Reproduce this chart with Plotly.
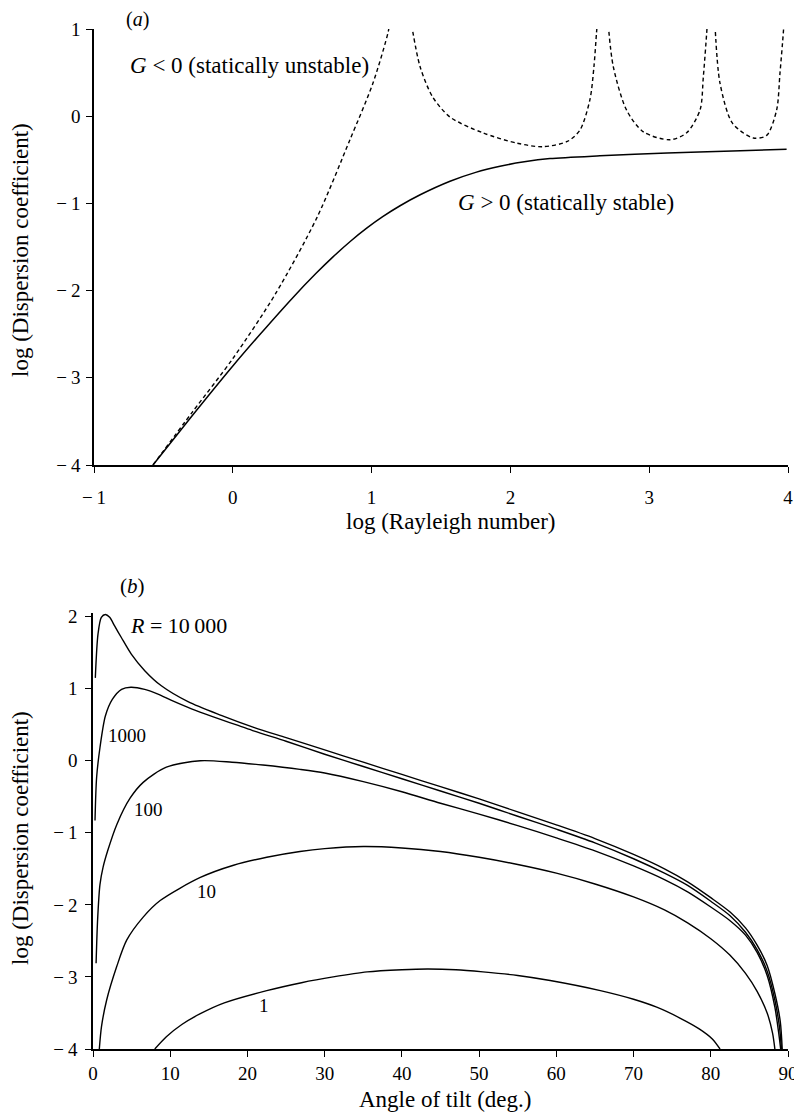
import plotly.graph_objects as go

# Page body has an 8px margin: figure is sized/offset so that its content lands on the
# reference pixel grid of the 802x1113 window.
OFF = 8
W, H = 802 - OFF, 1113 - OFF

# ---------------- Panel (a) data ----------------
stable_x = [-0.575, -0.3, 0.0, 0.2, 0.434, 0.6, 0.72, 0.85, 0.967, 1.08, 1.205, 1.35, 1.565, 1.75, 1.925,
            2.1, 2.285, 2.645, 3.13, 3.60, 3.99]
stable_y = [-4.0, -3.45, -2.865, -2.495, -2.078, -1.802, -1.616, -1.431, -1.281, -1.152, -1.027, -0.901, -0.746,
            -0.644, -0.574, -0.523, -0.486, -0.454, -0.422, -0.398, -0.380]

unstable_x = [-0.575, -0.29, 0.0, 0.31, 0.607, 0.844, 1.01, 1.12, 1.127, None,
              1.288, 1.349, 1.44, 1.565, 1.80, 2.05, 2.23, 2.41, 2.501, 2.573, 2.602, 2.62, 2.625, None,
              2.705, 2.741, 2.837, 2.958, 3.15, 3.27, 3.366, 3.39, 3.414, 3.418, None,
              3.474, 3.51, 3.60, 3.75, 3.846, 3.918, 3.942, 3.966, 3.97]
unstable_y = [-4.0, -3.39, -2.78, -2.03, -1.16, -0.27, 0.38, 0.97, 1.05, None,
              1.05, 0.57, 0.22, -0.01, -0.19, -0.31, -0.35, -0.29, -0.16, 0.19, 0.57, 0.95, 1.05, None,
              1.05, 0.57, 0.07, -0.18, -0.27, -0.19, 0.07, 0.45, 0.95, 1.05, None,
              1.05, 0.38, -0.08, -0.25, -0.22, 0.07, 0.49, 0.95, 1.05]

a_xticks = [-1, 0, 1, 2, 3, 4]
a_xlabels = ["\u2212\u20091", "0", "1", "2", "3", "4"]
a_yticks = [-4, -3, -2, -1, 0, 1]
a_ylabels = ["\u2212\u20094", "\u2212\u20093", "\u2212\u20092", "\u2212\u20091", "0", "1"]

# ---------------- Panel (b) data ----------------
ang_10000 = [0.3, 0.65, 1.08, 1.6, 2.16, 2.8, 3.67, 4.96, 6.7, 8.85, 12.3, 16.6, 20.9, 25, 30, 35, 40, 45, 50, 55,
             60, 65, 70, 74, 77, 80, 82.5, 84.5, 86, 87.3, 88.3, 89.0, 89.25]
log_10000 = [1.15, 1.76, 1.99, 2.03, 1.99, 1.87, 1.71, 1.48, 1.25, 1.04, 0.82, 0.63, 0.46, 0.32, 0.15, -0.02, -0.19,
             -0.36, -0.53, -0.71, -0.89, -1.08, -1.30, -1.50, -1.68, -1.90, -2.10, -2.32, -2.56, -2.84, -3.23, -3.62, -4.0]

ang_1000 = [0.26, 0.47, 0.9, 1.6, 2.5, 3.7, 4.9, 6.7, 8.5, 10.1, 12.3, 14.5, 16.6, 18.8, 20.9, 25, 30, 35, 40, 45,
            50, 55, 60, 65, 70, 74, 77, 80, 82.5, 84.5, 86, 87.3, 88.3, 88.9, 89.15]
log_1000 = [-0.83, -0.23, 0.18, 0.62, 0.85, 0.99, 1.02, 0.99, 0.92, 0.84, 0.74, 0.65, 0.57, 0.49, 0.41, 0.27, 0.09,
            -0.08, -0.25, -0.42, -0.59, -0.77, -0.95, -1.14, -1.36, -1.56, -1.73, -1.95, -2.15, -2.38, -2.62, -2.92,
            -3.32, -3.7, -4.0]

ang_100 = [0.4, 0.6, 0.9, 1.3, 1.9, 3.1, 4.8, 6.5, 9.5, 13.9, 18.0, 22.0, 26.8, 30, 35, 40, 45, 50, 55, 60, 65,
           70, 74, 77, 80, 82.5, 84.5, 86, 87.3, 88.3, 88.8, 89.05]
log_100 = [-2.81, -2.2, -1.72, -1.48, -1.25, -0.88, -0.52, -0.30, -0.09, 0.0, -0.02, -0.06, -0.12, -0.17, -0.29, -0.43,
           -0.59, -0.74, -0.90, -1.07, -1.25, -1.46, -1.65, -1.82, -2.03, -2.22, -2.42, -2.66, -2.98, -3.42, -3.78, -4.0]

ang_10 = [0.82, 1.1, 1.77, 3.06, 4.36, 6.5, 8.7, 13.9, 18.2, 22.5, 26.8, 30, 35, 40, 45, 50, 55, 60, 65, 70, 74,
          77, 80, 82.5, 84.5, 86, 87.3, 88.0, 88.3]
log_10 = [-4.0, -3.69, -3.32, -2.86, -2.49, -2.17, -1.94, -1.62, -1.45, -1.34, -1.26, -1.22, -1.19, -1.21, -1.26,
          -1.34, -1.44, -1.56, -1.71, -1.89, -2.07, -2.25, -2.47, -2.70, -2.95, -3.20, -3.50, -3.78, -4.0]

ang_1 = [8.0, 9.5, 11.5, 13.9, 17, 22.5, 27, 31.1, 35.5, 40, 43.3, 47, 50.5, 55, 59.2, 65.7, 70, 73, 76, 78.5,
         80.2, 81.2]
log_1 = [-4.0, -3.83, -3.66, -3.51, -3.36, -3.19, -3.08, -3.0, -2.93, -2.90, -2.89, -2.90, -2.93, -2.98, -3.05,
         -3.19, -3.31, -3.42, -3.57, -3.72, -3.86, -4.0]

b_xticks = [0, 10, 20, 30, 40, 50, 60, 70, 80, 90]
b_xlabels = [str(v) for v in b_xticks]
b_yticks = [-4, -3, -2, -1, 0, 1, 2]
b_ylabels = ["\u2212\u20094", "\u2212\u20093", "\u2212\u20092", "\u2212\u20091", "0", "1", "2"]

FONT = "Liberation Serif, Times New Roman, serif"

fig = go.Figure()

fig.add_trace(go.Scatter(x=stable_x, y=stable_y, mode="lines",
                         line=dict(color="black", width=1.5, shape="spline", smoothing=0.8),
                         xaxis="x", yaxis="y", showlegend=False))
fig.add_trace(go.Scatter(x=unstable_x, y=unstable_y, mode="lines",
                         line=dict(color="black", width=1.4, dash="4px,3px", shape="spline", smoothing=0.8),
                         connectgaps=False, xaxis="x", yaxis="y", showlegend=False))

for xs, ys in [(ang_10000, log_10000), (ang_1000, log_1000), (ang_100, log_100), (ang_10, log_10), (ang_1, log_1)]:
    fig.add_trace(go.Scatter(x=xs, y=ys, mode="lines",
                             line=dict(color="black", width=1.4, shape="spline", smoothing=0.8),
                             xaxis="x2", yaxis="y2", showlegend=False))

def px2x(px):
    return (px - OFF) / W

def px2y(py):
    return 1 - (py - OFF) / H

axis_common = dict(showline=True, linecolor="black", linewidth=1.6, showgrid=False, zeroline=False,
                   ticks="outside", ticklen=6, tickwidth=1.2, tickcolor="black", mirror=False,
                   automargin=False,
                   tickfont=dict(family=FONT, size=19, color="black"), tickmode="array", fixedrange=True)

fig.update_layout(
    width=W, height=H, margin=dict(l=0, r=0, t=0, b=0, autoexpand=False),
    paper_bgcolor="white", plot_bgcolor="white",
    xaxis=dict(axis_common, domain=[px2x(94), px2x(788)], range=[-1, 4], anchor="y",
               tickvals=a_xticks, ticktext=a_xlabels, ticklabelstandoff=8),
    yaxis=dict(axis_common, domain=[px2y(465), px2y(29)], range=[-4, 1], anchor="x",
               tickvals=a_yticks, ticktext=a_ylabels, ticklabelstandoff=2),
    xaxis2=dict(axis_common, domain=[px2x(93), px2x(788)], range=[0, 90], anchor="y2",
                tickvals=b_xticks, ticktext=b_xlabels, ticklabelstandoff=0),
    yaxis2=dict(axis_common, domain=[px2y(1049), px2y(613)], range=[-4, 2.05], anchor="x2",
                tickvals=b_yticks, ticktext=b_ylabels, ticklabelstandoff=4),
)

def ann(text, px, py, size, angle=0):
    fig.add_annotation(text=text, x=px2x(px), y=px2y(py), xref="paper", yref="paper",
                       xanchor="center", yanchor="middle", showarrow=False, textangle=angle,
                       font=dict(family=FONT, size=size, color="black"))

ann("(<i>a</i>)", 137, 20, 20)
ann("<i>G</i> < 0 (statically unstable)", 249, 65, 23)
ann("<i>G</i> > 0 (statically stable)", 566, 202, 23)
ann("log (Rayleigh number)", 451, 521, 23)
ann("log (Dispersion coefficient)", 20, 250, 23, -90)

ann("(<i>b</i>)", 133, 586, 21)
ann("<i>R</i> = 10\u2009000", 178, 625, 22)
ann("1000", 127, 735, 19)
ann("100", 148, 809, 19)
ann("10", 206, 891, 19)
ann("1", 264, 1005, 19)
ann("Angle of tilt (deg.)", 445, 1099, 23)
ann("log (Dispersion coefficient)", 20, 838, 23, -90)

fig.write_html("out.html")
